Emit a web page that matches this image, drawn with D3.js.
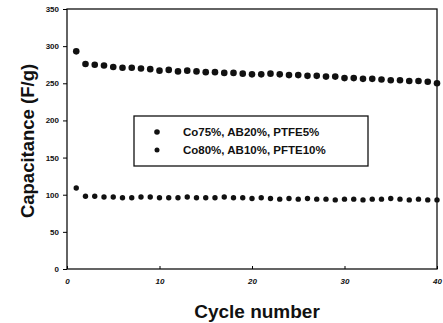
<!DOCTYPE html>
<html>
<head>
<meta charset="utf-8">
<script src="https://cdn.jsdelivr.net/npm/d3@7"></script>
<style>
  body { margin: 0; background: #fff; }
  svg { font-family: Arial, "Liberation Sans", sans-serif; }
</style>
</head>
<body>
<div id="chart"></div>
<script>
// Capacitance vs cycle number
const cycles = d3.range(1, 41);
const seriesA = [293, 276, 275, 274, 272, 271, 271, 270, 269, 267,
  268, 266, 267, 266, 265, 265, 264, 264, 263, 262,
  262, 263, 262, 261, 261, 260, 260, 259, 259, 257,
  257, 256, 256, 255, 254, 254, 253, 253, 252, 250];
const seriesB = [109, 98, 98, 97, 97, 96, 96, 97, 97, 96,
  96, 96, 97, 96, 96, 96, 97, 96, 96, 95,
  96, 95, 94, 95, 94, 95, 94, 94, 93, 94,
  94, 93, 94, 94, 95, 94, 93, 94, 93, 93];
const seriesNames = ['Co75%, AB20%, PTFE5%', 'Co80%, AB10%, PFTE10%'];
const yTicks = [0, 50, 100, 150, 200, 250, 300, 350];
const xTicks = [0, 10, 20, 30, 40];

const width = 443;
const height = 323;
const margin = { left: 67, right: 6, top: 9, bottom: 54 };

const svg = d3.select('#chart')
  .append('svg')
  .attr('width', width)
  .attr('height', height);

const x = d3.scaleLinear()
  .domain([0, 40])
  .range([margin.left, width - margin.right]);

const y = d3.scaleLinear()
  .domain([0, 350])
  .range([height - margin.bottom, margin.top]);

// plot frame
svg.append('rect')
  .attr('x', x(0))
  .attr('y', y(350))
  .attr('width', x(40) - x(0))
  .attr('height', y(0) - y(350))
  .attr('fill', 'none')
  .attr('stroke', '#111')
  .attr('stroke-width', 1.3);

// axes
const yAxis = d3.axisLeft(y).tickValues(yTicks).tickSize(4).tickPadding(4);
const gy = svg.append('g')
  .attr('transform', `translate(${x(0)},0)`)
  .call(yAxis);
gy.select('.domain').remove();
gy.selectAll('text')
  .style('font-size', '8px')
  .style('font-weight', 'bold')
  .attr('fill', '#111');

const xAxis = d3.axisBottom(x).tickValues(xTicks).tickSize(-3).tickPadding(9);
const gx = svg.append('g')
  .attr('transform', `translate(0,${y(0)})`)
  .call(xAxis);
gx.select('.domain').remove();
gx.selectAll('text')
  .style('font-size', '8px')
  .style('font-weight', 'bold')
  .style('font-style', 'italic')
  .attr('fill', '#111');

// data points
const dataA = cycles.map((c, i) => ({ c, v: seriesA[i] }));
const dataB = cycles.map((c, i) => ({ c, v: seriesB[i] }));

svg.append('g')
  .selectAll('circle')
  .data(dataA)
  .enter()
  .append('circle')
  .attr('cx', (d) => x(d.c))
  .attr('cy', (d) => y(d.v))
  .attr('r', 3.3)
  .attr('fill', '#111');

svg.append('g')
  .selectAll('circle')
  .data(dataB)
  .enter()
  .append('circle')
  .attr('cx', (d) => x(d.c))
  .attr('cy', (d) => y(d.v))
  .attr('r', 2.7)
  .attr('fill', '#111');

// legend
const legend = svg.append('g').attr('transform', 'translate(134,116)');
legend.append('rect')
  .attr('width', 234)
  .attr('height', 50)
  .attr('fill', '#fff')
  .attr('stroke', '#111')
  .attr('stroke-width', 1.3);

seriesNames.forEach((name, i) => {
  const row = legend.append('g').attr('transform', `translate(0,${16 + i * 18})`);
  row.append('circle')
    .attr('cx', 23)
    .attr('cy', 0)
    .attr('r', i === 0 ? 2.8 : 2.5)
    .attr('fill', '#111');
  row.append('text')
    .attr('x', 49)
    .attr('y', 4)
    .style('font-size', '11.5px')
    .style('font-weight', 'bold')
    .attr('fill', '#111')
    .text(name);
});

// axis titles
svg.append('text')
  .attr('transform', `translate(34,${(y(0) + y(350)) / 2 + 2}) rotate(-90)`)
  .attr('text-anchor', 'middle')
  .style('font-size', '18.5px')
  .style('font-weight', 'bold')
  .attr('fill', '#111')
  .text('Capacitance (F/g)');

svg.append('text')
  .attr('x', (x(0) + x(40)) / 2 + 5)
  .attr('y', 318)
  .attr('text-anchor', 'middle')
  .style('font-size', '19px')
  .style('font-weight', 'bold')
  .attr('fill', '#111')
  .text('Cycle number');
</script>
</body>
</html>
